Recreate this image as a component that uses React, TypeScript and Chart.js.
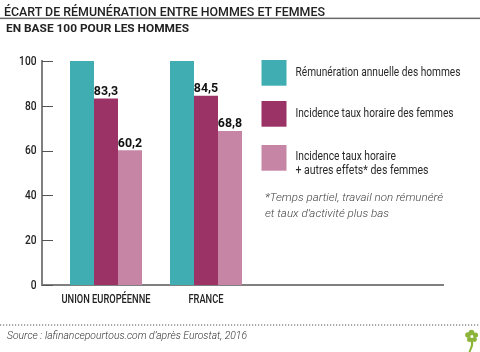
import React, { useEffect, useRef } from "react";
import { Chart, registerables } from "chart.js";

Chart.register(...registerables);

const categories = ["UNION EUROPÉENNE", "FRANCE"];
const seriesLabels = [
  ["Rémunération annuelle des hommes"],
  ["Incidence taux horaire des femmes"],
  ["Incidence taux horaire", "+ autres effets* des femmes"],
];
const menAnnual = [100, 100];
const womenHourly = [83.3, 84.5];
const womenOther = [60.2, 68.8];
const yTicks = [0, 20, 40, 60, 80, 100];
const colors = ["#40adb2", "#9c3366", "#c685a4"];
const labelled = [false, true, true];
const titleText = "ÉCART DE RÉMUNÉRATION ENTRE HOMMES ET FEMMES";
const subtitleText = "EN BASE 100 POUR LES HOMMES";
const footnote = ["*Temps partiel, travail non rémunéré", "et taux d’activité plus bas"];
const sourceText = "Source : lafinancepourtous.com d’après Eurostat, 2016";

const FONT = "Roboto, 'Noto Sans', sans-serif";

const fmt = (v: number) => v.toFixed(1).replace(".", ",");

function drawSqueezed(ctx: CanvasRenderingContext2D, text: string, x: number, y: number, f: number, align: CanvasTextAlign) {
  ctx.save();
  ctx.translate(x, y);
  ctx.scale(f, 1);
  ctx.textAlign = align;
  ctx.fillText(text, 0, 0);
  ctx.restore();
}

export default function App() {
  const ref = useRef<HTMLCanvasElement | null>(null);
  useEffect(() => {
    const canvas = ref.current;
    if (!canvas) return;
    const series = [menAnnual, womenHourly, womenOther];
    const axisText = {
      id: "axisText",
      afterDraw(chart: any) {
        const { ctx, chartArea } = chart;
        const ys = chart.scales.y;
        const xs = chart.scales.x;
        ctx.save();
        ctx.strokeStyle = "#555";
        ctx.lineWidth = 1;
        ys.ticks.forEach((t: any) => {
          const py = Math.round(ys.getPixelForValue(t.value)) + 0.5;
          ctx.beginPath();
          ctx.moveTo(chartArea.left, py);
          ctx.lineTo(chartArea.left + 11, py);
          ctx.stroke();
        });
        ctx.fillStyle = "#222";
        ctx.textBaseline = "middle";
        ctx.font = `500 13px ${FONT}`;
        const fy = 17.4 / ctx.measureText("100").width;
        ys.ticks.forEach((t: any) => {
          drawSqueezed(ctx, String(t.value), chartArea.left - 5.5, ys.getPixelForValue(t.value) + 0.5, fy, "right");
        });
        ctx.textBaseline = "alphabetic";
        ctx.font = `500 13px ${FONT}`;
        const fx = 89 / ctx.measureText(categories[0]).width;
        xs.ticks.forEach((t: any) => {
          const lab = categories[t.value];
          if (lab) drawSqueezed(ctx, lab, xs.getPixelForValue(t.value), chartArea.bottom + 17.7, fx, "center");
        });
        ctx.restore();
      },
    };
    const valuePlugin = {
      id: "vals",
      afterDatasetsDraw(chart: any) {
        const { ctx } = chart;
        ctx.save();
        ctx.font = `bold 13px ${FONT}`;
        ctx.fillStyle = "#111";
        ctx.textBaseline = "alphabetic";
        const f = 24.4 / ctx.measureText("83,3").width;
        chart.data.datasets.forEach((ds: any, di: number) => {
          if (!labelled[di]) return;
          const meta = chart.getDatasetMeta(di);
          meta.data.forEach((el: any, i: number) => {
            drawSqueezed(ctx, fmt(series[di][i]), el.x, el.y - 3.5, f, "center");
          });
        });
        ctx.restore();
      },
    };
    const chart = new Chart(canvas, {
      type: "bar",
      data: {
        datasets: series.map((vals, di) => ({
          label: seriesLabels[di].join(" "),
          data: vals.map((v, i) => ({ x: i, y: v })),
          backgroundColor: colors[di],
          borderWidth: 0,
          barPercentage: 1,
          categoryPercentage: 0.72,
        })),
      },
      options: {
        responsive: false,
        animation: false,
        layout: { padding: { left: 42, right: 37, top: 61, bottom: 67 } },
        plugins: { legend: { display: false }, tooltip: { enabled: false }, title: { display: false } },
        scales: {
          x: {
            type: "linear",
            min: -0.64,
            max: 3.37,
            offset: false,
            grid: { display: false, drawTicks: false },
            border: { display: true, color: "#808080", width: 2 },
            afterBuildTicks: (s: any) => {
              s.ticks = categories.map((_, i) => ({ value: i }));
            },
            afterFit: (s: any) => {
              s.height = 0;
            },
            ticks: { display: false },
          },
          y: {
            min: 0,
            max: 100,
            grid: { display: false, drawTicks: false },
            border: { display: true, color: "#808080", width: 2 },
            afterBuildTicks: (s: any) => {
              s.ticks = yTicks.map((v) => ({ value: v }));
            },
            afterFit: (s: any) => {
              s.width = 0;
            },
            ticks: { display: false },
          },
        },
      },
      plugins: [axisText, valuePlugin],
    });
    return () => chart.destroy();
  }, []);

  const boxTops = [60, 101, 145];
  const legendBaselines = [[76], [117.3], [159.6, 173.6]];
  const legendWidths = [[165], [158], [100.5, 133]];
  const fnWidths = [178, 124];
  return (
    <div style={{ position: "absolute", left: 0, top: 0, width: 480, height: 352, background: "#fff", overflow: "hidden" }}>
      <canvas ref={ref} width={480} height={352} style={{ position: "absolute", left: 0, top: 0 }} />
      <svg width={480} height={352} style={{ position: "absolute", left: 0, top: 0 }} fontFamily={FONT}>
        <text x={4} y={16} fontSize={13} fontWeight={500} fill="#222" textLength={321} lengthAdjust="spacingAndGlyphs">
          {titleText}
        </text>
        <rect x={0} y={17.6} width={480} height={1.5} fill="#6a6a6a" />
        <text x={6} y={32.3} fontSize={10} fontWeight={700} fill="#222" textLength={183} lengthAdjust="spacingAndGlyphs">
          {subtitleText}
        </text>
        {seriesLabels.map((lines, i) => (
          <g key={i}>
            <rect x={261.5} y={boxTops[i]} width={25} height={25.7} fill={colors[i]} />
            {lines.map((ln, j) => (
              <text key={j} x={295.5} y={legendBaselines[i][j]} fontSize={13} fill="#2a2a2a" textLength={legendWidths[i][j]} lengthAdjust="spacingAndGlyphs">
                {ln}
              </text>
            ))}
          </g>
        ))}
        {footnote.map((ln, j) => (
          <text key={j} x={265} y={200.5 + j * 16} fontSize={11} fontStyle="italic" fontWeight={300} fill="#444" textLength={fnWidths[j]} lengthAdjust="spacingAndGlyphs">
            {ln}
          </text>
        ))}
        <line x1={0} y1={325} x2={480} y2={325} stroke="#555" strokeWidth={1.2} strokeDasharray="1.2 1.8" />
        <text x={7} y={339} fontSize={11} fontStyle="italic" fontWeight={300} fill="#333" textLength={240} lengthAdjust="spacingAndGlyphs">
          {sourceText}
        </text>
        <g fill="#8cb43a">
          <circle cx={468} cy={335} r={2.8} />
          <circle cx={471.5} cy={332.5} r={2.8} />
          <circle cx={475.5} cy={335} r={2.6} />
          <circle cx={469.5} cy={339.5} r={2.5} />
          <circle cx={474.5} cy={339.5} r={2.4} />
          <path d="M470.5 338 L473.5 338 L473 346 L470.5 352 L468.5 352 L471 345 Z" />
        </g>
      </svg>
    </div>
  );
}
